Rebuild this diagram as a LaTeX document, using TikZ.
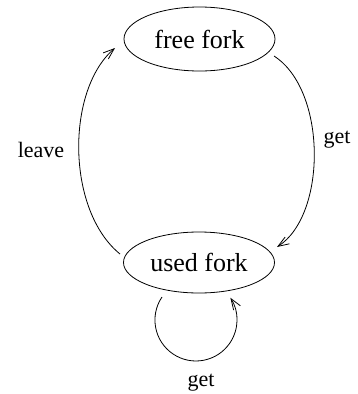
\documentclass[tikz,border=0pt]{standalone}
\usepackage{fontspec}
\setmainfont{Liberation Serif}
\usetikzlibrary{shapes.geometric,arrows.meta}
\begin{document}
\begin{tikzpicture}[x=1pt,y=-1pt,
  state/.style={draw,ellipse,line width=0.8pt,inner sep=0pt,minimum width=151pt,font=\fontsize{26}{30}\selectfont},
  lbl/.style={font=\fontsize{22}{26}\selectfont,inner sep=0pt},
  arr/.style={line width=0.8pt,-{Straight Barb[length=11pt,width=8pt]}}]
\useasboundingbox (0,0) rectangle (358,394);
\node[state,minimum height=64pt] (free) at (199.5,39) {free fork};
\node[state,minimum height=61pt] (used) at (199,262.5) {used fork};
\node[lbl] (lleave) at (41,150) {leave};
\node[lbl] (lget1) at (337,140) {get};
\node[lbl] (lget2) at (201,383) {get};
\draw[arr] ([shift={(-79,-8.5)}]used.center) .. controls (66,210) and (66,90) .. ([shift={(-84.5,9)}]free.center);
\draw[arr] ([shift={(74.5,17)}]free.center) .. controls (327,90) and (327,215) .. ([shift={(78,-15.5)}]used.center);
\draw[arr] ([shift={(-37,34.5)}]used.center) arc[start angle=214.1,end angle=-32.9,radius=41];
\end{tikzpicture}
\end{document}
